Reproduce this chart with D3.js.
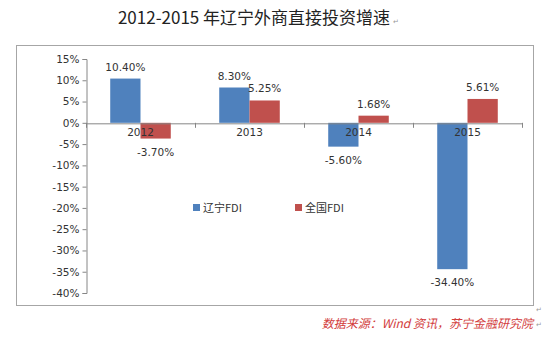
<!DOCTYPE html>
<html><head><meta charset="utf-8">
<script src="https://cdn.jsdelivr.net/npm/d3@7"></script>
<style>body{margin:0;background:#fff}svg{display:block}</style>
</head><body>
<script>
const categories = ["2012","2013","2014","2015"];
const liaoning = [10.40, 8.30, -5.60, -34.40];
const national = [-3.70, 5.25, 1.68, 5.61];
const seriesNames = ["辽宁FDI","全国FDI"];
const yTicks = [15,10,5,0,-5,-10,-15,-20,-25,-30,-35,-40];
const colors = ["#4f81bd","#c0504d"];

const W=550,H=341;
const svg=d3.select("body").append("svg").attr("width",W).attr("height",H);
const font="'Noto Sans CJK SC','Noto Sans',sans-serif";

svg.append("text").attr("x",254).attr("y",24).attr("text-anchor","middle")
  .attr("font-family",font).attr("font-size",17).attr("fill","#222")
  .text("2012-2015 年辽宁外商直接投资增速");
svg.append("text").attr("x",393).attr("y",24).attr("font-family",font).attr("font-size",7).attr("fill","#999").text("↵");

svg.append("rect").attr("x",16.5).attr("y",45.5).attr("width",517).attr("height",260)
  .attr("fill","none").attr("stroke","#a6a6a6").attr("stroke-width",1);
svg.append("text").attr("x",536).attr("y",312).attr("font-family",font).attr("font-size",7).attr("fill","#999").text("↵");

const x=d3.scaleBand().domain(categories).range([86,522]);
const y=d3.scaleLinear().domain([-40,15]).range([293,59]);
const inner=d3.scaleBand().domain([0,1]).range([0,x.bandwidth()]).paddingOuter(0.8).paddingInner(0);

// y axis
const yAxis=d3.axisLeft(y).tickValues(yTicks).tickSize(4).tickFormat(d=>d+"%");
const gy=svg.append("g").attr("transform","translate(86.5,0)").call(yAxis);
gy.select(".domain").attr("stroke","#868686");
gy.selectAll(".tick line").attr("stroke","#868686");
gy.selectAll(".tick text").attr("font-family","'DejaVu Sans',sans-serif").attr("font-size",10.5).attr("fill","#333").attr("x",-7);

// bars
const data=[liaoning,national];
data.forEach((vals,si)=>{
  svg.append("g").selectAll("rect").data(vals).join("rect")
    .attr("x",(d,i)=>x(categories[i])+inner(si))
    .attr("width",inner.bandwidth())
    .attr("y",d=>y(Math.max(0,d)))
    .attr("height",d=>Math.abs(y(d)-y(0)))
    .attr("fill",colors[si]);
  svg.append("g").selectAll("text").data(vals).join("text")
    .attr("x",(d,i)=>x(categories[i])+inner(si)+inner.bandwidth()/2)
    .attr("y",d=>d>=0?y(d)-8:y(d)+17)
    .attr("text-anchor","middle").attr("font-family","'DejaVu Sans',sans-serif")
    .attr("font-size",10.5).attr("fill","#333")
    .text(d=>d.toFixed(2)+"%");
});

// x axis at zero
const xAxis=d3.axisBottom(x).tickSize(0).tickSizeOuter(0);
const gx=svg.append("g").attr("transform",`translate(0,${y(0)+0.5})`).call(xAxis);
gx.select(".domain").attr("stroke","#868686");
gx.selectAll(".tick text").attr("font-family","'DejaVu Sans',sans-serif").attr("font-size",10.5).attr("fill","#333").attr("dy","0.9em");
svg.append("g").selectAll("line").data(categories.map(c=>x(c)).concat([x.range()[1]])).join("line")
  .attr("x1",d=>Math.round(d)+0.5).attr("x2",d=>Math.round(d)+0.5)
  .attr("y1",y(0)).attr("y2",y(0)+5).attr("stroke","#868686");

// legend
const leg=svg.append("g");
[193,295].forEach((lx,i)=>{
  leg.append("rect").attr("x",lx).attr("y",204).attr("width",7).attr("height",7).attr("fill",colors[i]);
  leg.append("text").attr("x",lx+10).attr("y",212).attr("font-family",font).attr("font-size",11).attr("fill","#333").text(seriesNames[i]);
});

// source
svg.append("text").attr("x",533).attr("y",328).attr("text-anchor","end")
  .attr("font-family",font).attr("font-size",12).attr("font-style","italic").attr("fill","#d23c3c")
  .text("数据来源：Wind 资讯，苏宁金融研究院");
svg.append("text").attr("x",536).attr("y",327).attr("font-family",font).attr("font-size",7).attr("fill","#999").text("↵");
</script>
</body></html>
